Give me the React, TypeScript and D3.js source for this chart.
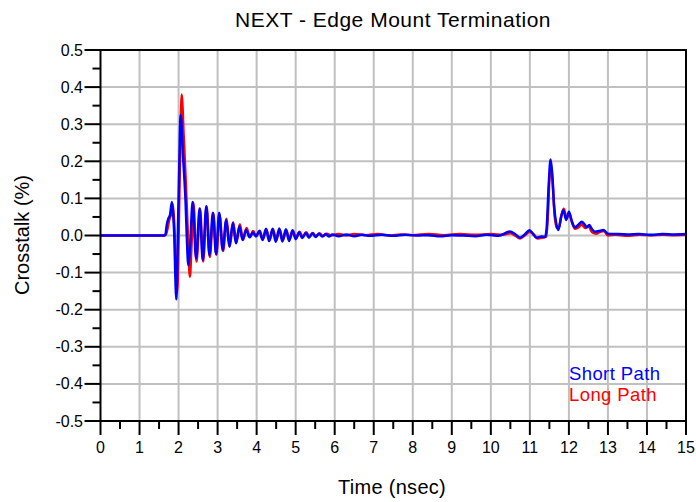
import React from 'react';
import { scaleLinear, line, curveMonotoneX, range } from 'd3';

// Short Path (blue)
const shortTime = [0, 1.62, 1.66, 1.7, 1.74, 1.78, 1.83, 1.86, 1.89, 1.92, 1.94, 1.96, 1.99, 2.02, 2.05, 2.07, 2.1, 2.14, 2.18, 2.21, 2.25, 2.3, 2.36, 2.45, 2.54, 2.62, 2.71, 2.79, 2.88, 2.96, 3.04, 3.13, 3.22, 3.3, 3.39, 3.47, 3.56, 3.64, 3.73, 3.82, 3.9, 3.98, 4.07, 4.15, 4.24, 4.32, 4.41, 4.49, 4.58, 4.66, 4.75, 4.83, 4.92, 5.0, 5.09, 5.17, 5.26, 5.34, 5.43, 5.51, 5.6, 5.68, 5.77, 5.85, 5.94, 6.1, 6.3, 6.5, 6.7, 6.9, 7.2, 7.5, 7.8, 8.1, 8.4, 8.7, 9.0, 9.3, 9.6, 9.9, 10.2, 10.49, 10.62, 10.75, 10.87, 10.99, 11.08, 11.17, 11.3, 11.39, 11.43, 11.48, 11.53, 11.57, 11.62, 11.68, 11.73, 11.8, 11.86, 11.93, 12.0, 12.07, 12.15, 12.25, 12.33, 12.4, 12.46, 12.52, 12.6, 12.67, 12.77, 12.88, 13.0, 13.2, 13.5, 13.8, 14.1, 14.4, 14.7, 15];
const shortPath = [0, 0, 0.002, 0.03, 0.046, 0.055, 0.09, 0.06, 0.0, -0.12, -0.172, -0.12, 0.05, 0.2, 0.325, 0.31, 0.24, 0.17, 0.09, 0.0, -0.08, -0.02, 0.09, -0.062, 0.073, -0.066, 0.079, -0.053, 0.061, -0.05, 0.061, -0.039, 0.042, -0.03, 0.034, -0.021, 0.025, -0.012, 0.015, -0.005, 0.008, -0.002, 0.012, -0.012, 0.018, -0.015, 0.018, -0.017, 0.019, -0.016, 0.017, -0.015, 0.014, -0.01, 0.009, -0.007, 0.007, -0.006, 0.006, -0.004, 0.005, -0.003, 0.004, -0.003, 0.003, -0.002, 0.003, -0.002, 0.002, -0.001, 0.002, -0.001, 0.002, 0.0, 0.001, -0.002, 0.001, 0.0, -0.002, 0.002, -0.001, 0.011, 0.004, -0.006, 0.003, 0.014, 0.005, -0.006, -0.003, -0.004, 0.02, 0.13, 0.205, 0.17, 0.08, 0.03, 0.015, 0.05, 0.068, 0.042, 0.064, 0.04, 0.022, 0.03, 0.037, 0.03, 0.022, 0.028, 0.016, 0.01, 0.012, 0.015, 0.005, 0.004, 0.003, 0.004, 0.002, 0.004, 0.003, 0.004];

// Long Path (red)
const longTime = [0, 1.64, 1.68, 1.72, 1.76, 1.8, 1.85, 1.88, 1.91, 1.94, 1.96, 1.98, 2.01, 2.04, 2.08, 2.1, 2.13, 2.17, 2.21, 2.25, 2.29, 2.33, 2.38, 2.46, 2.55, 2.63, 2.72, 2.8, 2.89, 2.97, 3.05, 3.14, 3.23, 3.31, 3.4, 3.48, 3.57, 3.65, 3.74, 3.83, 3.91, 3.99, 4.08, 4.16, 4.25, 4.33, 4.42, 4.5, 4.59, 4.67, 4.76, 4.84, 4.93, 5.01, 5.1, 5.18, 5.27, 5.35, 5.44, 5.52, 5.61, 5.7, 5.8, 5.9, 6.1, 6.3, 6.5, 6.8, 7.1, 7.4, 7.7, 8.0, 8.4, 8.8, 9.2, 9.6, 10.0, 10.3, 10.5, 10.62, 10.75, 10.87, 11.0, 11.1, 11.2, 11.32, 11.42, 11.46, 11.5, 11.54, 11.58, 11.63, 11.69, 11.74, 11.81, 11.87, 11.94, 12.01, 12.08, 12.16, 12.25, 12.33, 12.42, 12.5, 12.6, 12.7, 12.8, 12.9, 13.0, 13.2, 13.5, 13.8, 14.1, 14.4, 14.7, 15];
const longPath = [0, 0, 0.003, 0.02, 0.042, 0.055, 0.085, 0.05, -0.02, -0.11, -0.155, -0.12, 0.05, 0.22, 0.38, 0.35, 0.27, 0.18, 0.08, -0.03, -0.111, -0.03, 0.088, -0.07, 0.072, -0.07, 0.078, -0.058, 0.06, -0.052, 0.055, -0.042, 0.045, -0.03, 0.036, -0.02, 0.03, -0.012, 0.02, -0.004, 0.012, -0.002, 0.013, -0.01, 0.016, -0.012, 0.017, -0.013, 0.016, -0.012, 0.014, -0.01, 0.012, -0.007, 0.01, -0.004, 0.009, -0.003, 0.007, -0.002, 0.006, -0.001, 0.005, 0.0, 0.004, 0.0, 0.004, 0.001, 0.004, 0.0, 0.003, 0.001, 0.004, 0.001, 0.004, 0.002, 0.004, 0.002, 0.006, 0.0, -0.008, 0.0, 0.01, 0.002, -0.008, -0.006, -0.003, 0.05, 0.15, 0.18, 0.15, 0.06, 0.02, 0.02, 0.055, 0.072, 0.045, 0.06, 0.035, 0.018, 0.022, 0.03, 0.02, 0.025, 0.008, 0.005, 0.01, 0.012, 0.0, 0.002, -0.001, 0.002, 0.0, 0.002, 0.001, 0.002];

const xTicks = range(0, 16);
const xMinor = range(0.5, 15, 1);
const yTicks = range(-5, 6).map(d => d / 10);
const yMinor = range(-4.5, 5, 1).map(d => d / 10);

const title = 'NEXT - Edge Mount Termination';
const xTitle = 'Time (nsec)';
const yTitle = 'Crosstalk (%)';
const legend = [
  { name: 'Short Path', color: '#0000ff' },
  { name: 'Long Path', color: '#ff0000' },
];

const font = '"Liberation Sans", Arial, sans-serif';

const App = () => {
  const width = 696;
  const height = 502;
  const left = 100.5, right = 686, top = 50, bottom = 421;

  const x = scaleLinear().domain([0, 15]).range([left, right]);
  const y = scaleLinear().domain([-0.5, 0.5]).range([bottom, top]);

  const makeLine = (ts: number[], vs: number[]) =>
    line<number>()
      .x((_, i) => x(ts[i]))
      .y(d => y(d))
      .curve(curveMonotoneX)(vs) || '';

  return (
    <svg
      width={width}
      height={height}
      style={{ position: 'fixed', left: 0, top: 0, background: 'white' }}
      fontFamily={font}
    >
      <rect width={width} height={height} fill="white" />
      {/* grid */}
      {xTicks.slice(1, -1).map(t => (
        <line key={'gx' + t} x1={x(t)} x2={x(t)} y1={top} y2={bottom} stroke="#c0c0c0" strokeWidth={2} />
      ))}
      {yTicks.slice(1, -1).map(t => (
        <line key={'gy' + t} x1={left} x2={right} y1={y(t)} y2={y(t)} stroke="#c0c0c0" strokeWidth={2} />
      ))}

      {/* series */}
      <path d={makeLine(longTime, longPath)} fill="none" stroke="#ff0000" strokeWidth={2.5} strokeLinejoin="round" />
      <path d={makeLine(shortTime, shortPath)} fill="none" stroke="#0000ff" strokeWidth={2.5} strokeLinejoin="round" />

      {/* frame */}
      <rect x={left} y={top} width={right - left} height={bottom - top} fill="none" stroke="black" strokeWidth={2} />

      {/* x ticks */}
      {xTicks.map(t => (
        <g key={'xt' + t}>
          <line x1={x(t)} x2={x(t)} y1={bottom} y2={bottom + 14} stroke="black" strokeWidth={2} />
          <text x={x(t)} y={453} textAnchor="middle" fontSize={16} fill="#000">{t}</text>
        </g>
      ))}
      {xMinor.map(t => (
        <line key={'xm' + t} x1={x(t)} x2={x(t)} y1={bottom} y2={bottom + 8} stroke="black" strokeWidth={2} />
      ))}

      {/* y ticks */}
      {yTicks.map(t => (
        <g key={'yt' + t}>
          <line x1={left - 16} x2={left} y1={y(t)} y2={y(t)} stroke="black" strokeWidth={2} />
          <text x={83} y={y(t) + 5.5} textAnchor="end" fontSize={16} fill="#000">{t.toFixed(1)}</text>
        </g>
      ))}
      {yMinor.map(t => (
        <line key={'ym' + t} x1={left - 8} x2={left} y1={y(t)} y2={y(t)} stroke="black" strokeWidth={2} />
      ))}

      {/* titles */}
      <text x={393} y={27} textAnchor="middle" fontSize={21} letterSpacing={0.5} fill="#000">{title}</text>
      <text x={392} y={494} textAnchor="middle" fontSize={20} letterSpacing={0.3} fill="#000">{xTitle}</text>
      <text transform="translate(29,235) rotate(-90)" textAnchor="middle" fontSize={20} fill="#000">{yTitle}</text>

      {/* legend */}
      {legend.map((l, i) => (
        <text key={l.name} x={569} y={380 + i * 21} fontSize={18.5} letterSpacing={0.4} fill={l.color}>{l.name}</text>
      ))}
    </svg>
  );
};

export default App;
